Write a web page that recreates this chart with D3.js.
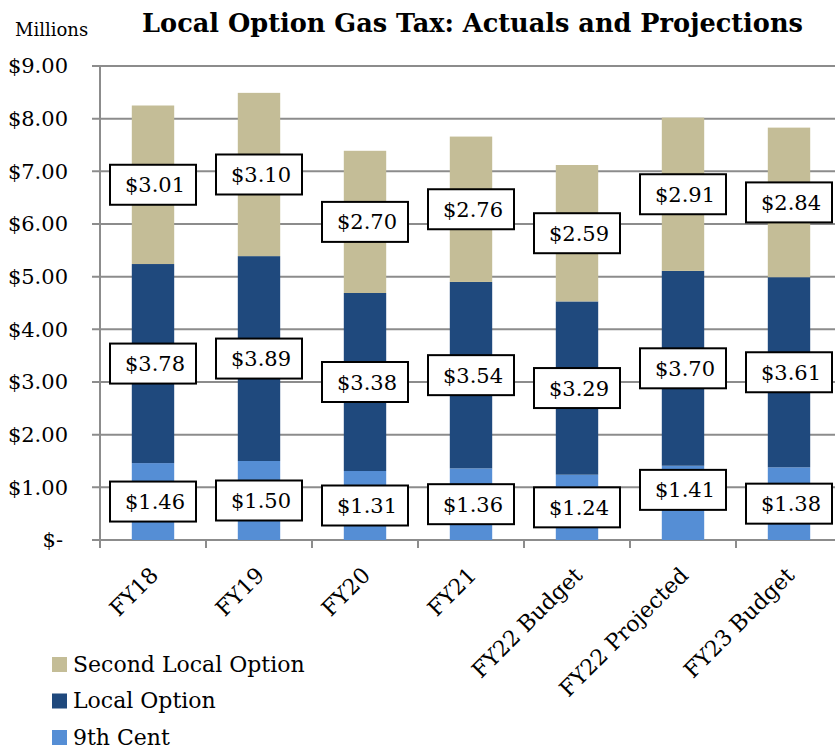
<!DOCTYPE html>
<html>
<head>
<meta charset="utf-8">
<script src="https://cdn.jsdelivr.net/npm/d3@7"></script>
<style>
  html, body { margin: 0; padding: 0; background: #fff; }
  svg { display: block; font-family: "DejaVu Serif", "Liberation Serif", serif; }
</style>
</head>
<body>
<svg id="chart" width="835" height="752"></svg>
<script>
// Local Option Gas Tax revenue, in millions of dollars
const categories = ["FY18", "FY19", "FY20", "FY21", "FY22 Budget", "FY22 Projected", "FY23 Budget"];
const ninthCent = [1.46, 1.50, 1.31, 1.36, 1.24, 1.41, 1.38];
const localOption = [3.78, 3.89, 3.38, 3.54, 3.29, 3.70, 3.61];
const secondLocalOption = [3.01, 3.10, 2.70, 2.76, 2.59, 2.91, 2.84];
const seriesNames = ["9th Cent", "Local Option", "Second Local Option"];
const yTicks = [0, 1, 2, 3, 4, 5, 6, 7, 8, 9];

const colors = {
  "9th Cent": "#558ED5",
  "Local Option": "#1F497D",
  "Second Local Option": "#C4BD97"
};

const svg = d3.select("#chart");
const margin = { left: 100, top: 66, bottom: 540 };
const bandStep = 106;

const x = d3.scaleBand()
  .domain(categories)
  .range([margin.left, margin.left + bandStep * categories.length])
  .paddingInner(0.6)
  .paddingOuter(0.3);

const y = d3.scaleLinear().domain([0, 9]).range([margin.bottom, margin.top]);

// Table rows for stacking
const rows = categories.map((c, i) => ({
  category: c,
  "9th Cent": ninthCent[i],
  "Local Option": localOption[i],
  "Second Local Option": secondLocalOption[i]
}));
const stacked = d3.stack().keys(seriesNames)(rows);

// Horizontal gridlines
const plotRight = margin.left + bandStep * categories.length;
svg.append("g")
  .selectAll("line")
  .data(yTicks)
  .join("line")
  .attr("x1", margin.left - 8)
  .attr("x2", plotRight)
  .attr("y1", d => y(d))
  .attr("y2", d => y(d))
  .attr("stroke", "#8c8c8c")
  .attr("stroke-width", 2);

// Y axis line
svg.append("line")
  .attr("x1", margin.left).attr("x2", margin.left)
  .attr("y1", y(9)).attr("y2", y(0) + 8)
  .attr("stroke", "#8c8c8c").attr("stroke-width", 2);

// X axis tick marks at category boundaries
const boundaries = d3.range(categories.length + 1).map(i => margin.left + i * bandStep);
svg.append("g")
  .selectAll("line")
  .data(boundaries)
  .join("line")
  .attr("x1", d => d).attr("x2", d => d)
  .attr("y1", y(0)).attr("y2", y(0) + 8)
  .attr("stroke", "#8c8c8c").attr("stroke-width", 2);

// Y tick labels
const fmtMoney = v => v === 0 ? "$-" : "$" + v.toFixed(2);
svg.append("g")
  .selectAll("text")
  .data(yTicks)
  .join("text")
  .attr("x", d => d === 0 ? 63 : 68)
  .attr("y", d => y(d))
  .attr("dy", "0.35em")
  .attr("text-anchor", "end")
  .attr("font-size", 21)
  .attr("fill", "#000")
  .text(fmtMoney);

// Stacked bars
const layers = svg.append("g")
  .selectAll("g")
  .data(stacked)
  .join("g")
  .attr("fill", d => colors[d.key]);

layers.selectAll("rect")
  .data(d => d)
  .join("rect")
  .attr("x", d => x(d.data.category))
  .attr("width", x.bandwidth())
  .attr("y", d => y(d[1]))
  .attr("height", d => y(d[0]) - y(d[1]));

// Value labels in boxes, centred on each segment
// (one label is lifted slightly so it clears its neighbour's box)
const labelLift = { "FY22 Projected|9th Cent": 13 };
const labelG = svg.append("g");
stacked.forEach(layer => {
  layer.forEach(d => {
    const cx = x(d.data.category) + x.bandwidth() / 2;
    const lift = labelLift[d.data.category + "|" + layer.key] || 0;
    const cy = (y(d[0]) + y(d[1])) / 2 - lift;
    const g = labelG.append("g").attr("transform", `translate(${cx},${cy})`);
    g.append("rect")
      .attr("x", -43).attr("y", -20)
      .attr("width", 86).attr("height", 40)
      .attr("fill", "#fff")
      .attr("stroke", "#000")
      .attr("stroke-width", 2);
    g.append("text")
      .attr("x", 2)
      .attr("text-anchor", "middle")
      .attr("dy", "0.36em")
      .attr("font-size", 21)
      .attr("fill", "#000")
      .text("$" + d.data[layer.key].toFixed(2));
  });
});

// Rotated category labels
svg.append("g")
  .selectAll("text")
  .data(categories)
  .join("text")
  .attr("transform", d => `translate(${x(d) + x.bandwidth() / 2 - 5},${y(0) + 25}) rotate(-45)`)
  .attr("text-anchor", "end")
  .attr("dy", "0.75em")
  .attr("font-size", 22)
  .attr("fill", "#000")
  .text(d => d);

// Title and unit
svg.append("text")
  .attr("x", 472.5).attr("y", 32)
  .attr("text-anchor", "middle")
  .attr("font-size", 25.6)
  .attr("font-weight", "bold")
  .attr("fill", "#000")
  .text("Local Option Gas Tax: Actuals and Projections");

svg.append("text")
  .attr("x", 15).attr("y", 36)
  .attr("font-size", 18)
  .attr("fill", "#000")
  .text("Millions");

// Legend
const legendItems = ["Second Local Option", "Local Option", "9th Cent"];
const legend = svg.append("g")
  .selectAll("g")
  .data(legendItems)
  .join("g")
  .attr("transform", (d, i) => `translate(52,${664 + i * 36.5})`);
legend.append("rect")
  .attr("x", 0).attr("y", -7)
  .attr("width", 15).attr("height", 15)
  .attr("fill", d => colors[d]);
legend.append("text")
  .attr("x", 21)
  .attr("dy", "0.36em")
  .attr("font-size", 22)
  .attr("fill", "#000")
  .text(d => d);
</script>
</body>
</html>
